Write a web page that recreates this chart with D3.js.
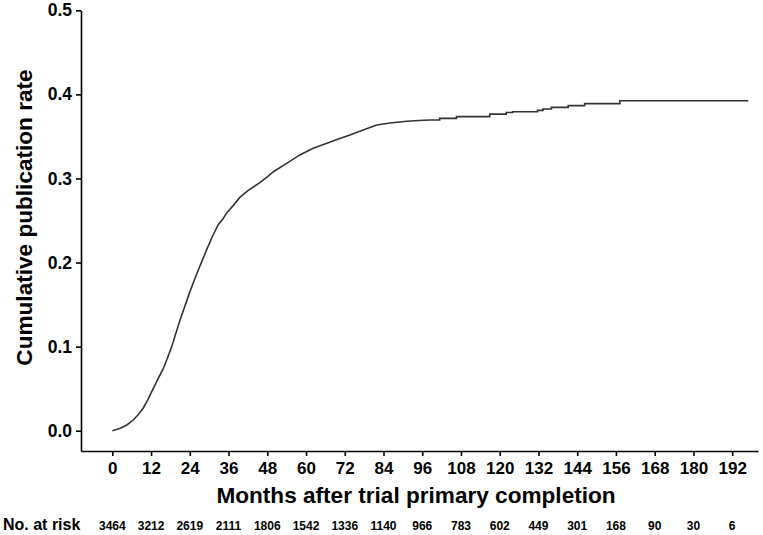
<!DOCTYPE html>
<html><head><meta charset="utf-8">
<script src="https://cdn.jsdelivr.net/npm/d3@7"></script>
<style>body{margin:0;background:#fff}svg{display:block}text{font-family:"Liberation Sans",Arial,sans-serif;font-weight:bold;fill:#000}</style>
</head><body>
<svg id="c" width="763" height="535"></svg>
<script>
// Smooth (dense-step) early part of the curve: months and cumulative rate
const curveMonths = [0,1,2.5,4.5,6.5,8,9.6,11,12.7,14,15.8,17,18.4,21,24.1,26.1,29.2,31,32.8,34.4,35.4,37.5,39.5,42,45.7,48,49.9,54,58.1,62.2,66.9,70,73.6,77.7,81.9,86,91.2,95,98.3];
const curveRates  = [0,0.001,0.003,0.0068,0.0127,0.019,0.027,0.037,0.0504,0.0605,0.074,0.0855,0.1,0.132,0.166,0.186,0.215,0.231,0.245,0.2526,0.259,0.268,0.2775,0.2855,0.295,0.302,0.308,0.318,0.328,0.336,0.3425,0.347,0.3517,0.3576,0.3636,0.366,0.368,0.369,0.3695];
// Late part: visible discrete steps (month of step, level after step)
const stepMonths = [101.4,106.6,116.9,122,124,131.7,133.4,136,141.2,146.3,157.2,197];
const stepRates  = [0.3715,0.3735,0.3765,0.3785,0.3794,0.381,0.3826,0.3846,0.3866,0.389,0.3925,0.3925];
// Axis ticks and number at risk
const xTicks = [0,12,24,36,48,60,72,84,96,108,120,132,144,156,168,180,192];
const yTicks = [0.0,0.1,0.2,0.3,0.4,0.5];
const atRisk = [3464,3212,2619,2111,1806,1542,1336,1140,966,783,602,449,301,168,90,30,6];

const svg = d3.select("#c");
const x = d3.scaleLinear().domain([-9.7,200]).range([81,758]);
const y = d3.scaleLinear().domain([-0.02415,0.5]).range([451,10.3]);

// build point list
const pts = curveMonths.map((m,i)=>[m,curveRates[i]]);
let prev = curveRates[curveRates.length-1];
stepMonths.forEach((m,i)=>{ pts.push([m,prev]); pts.push([m,stepRates[i]]); prev = stepRates[i]; });

svg.append("path").datum(pts)
  .attr("d", d3.line().x(d=>x(d[0])).y(d=>y(d[1])))
  .attr("fill","none").attr("stroke","#333").attr("stroke-width",1.6);

const gx = svg.append("g").attr("transform","translate(0,451)")
  .call(d3.axisBottom(x).tickValues(xTicks).tickFormat(d3.format("d")).tickSizeOuter(0).tickSizeInner(5).tickPadding(6));
gx.selectAll("text").attr("font-size",17).attr("font-family","Liberation Sans, Arial").attr("font-weight","bold").attr("fill","#000");
gx.selectAll("path,line").attr("stroke","#000").attr("stroke-width",1.6);

const gy = svg.append("g").attr("transform","translate(81,0)")
  .call(d3.axisLeft(y).tickValues(yTicks).tickFormat(d3.format(".1f")).tickSizeOuter(0).tickSizeInner(5).tickPadding(4));
gy.selectAll("text").attr("font-size",17.5).attr("font-family","Liberation Sans, Arial").attr("font-weight","bold").attr("fill","#000");
gy.selectAll("path,line").attr("stroke","#000").attr("stroke-width",1.6);

svg.append("text").attr("x",416).attr("y",503).attr("text-anchor","middle")
  .attr("font-size",22.6).text("Months after trial primary completion");
svg.append("text").attr("transform","translate(32,217.5) rotate(-90)").attr("text-anchor","middle")
  .attr("font-size",22.6).text("Cumulative publication rate");

svg.append("text").attr("x",3).attr("y",530).attr("font-size",16).text("No. at risk");
svg.append("g").selectAll("text").data(atRisk).join("text")
  .attr("x",(d,i)=>x(xTicks[i])).attr("y",530).attr("text-anchor","middle")
  .attr("font-size",12).text(d=>d);
</script>
</body></html>
